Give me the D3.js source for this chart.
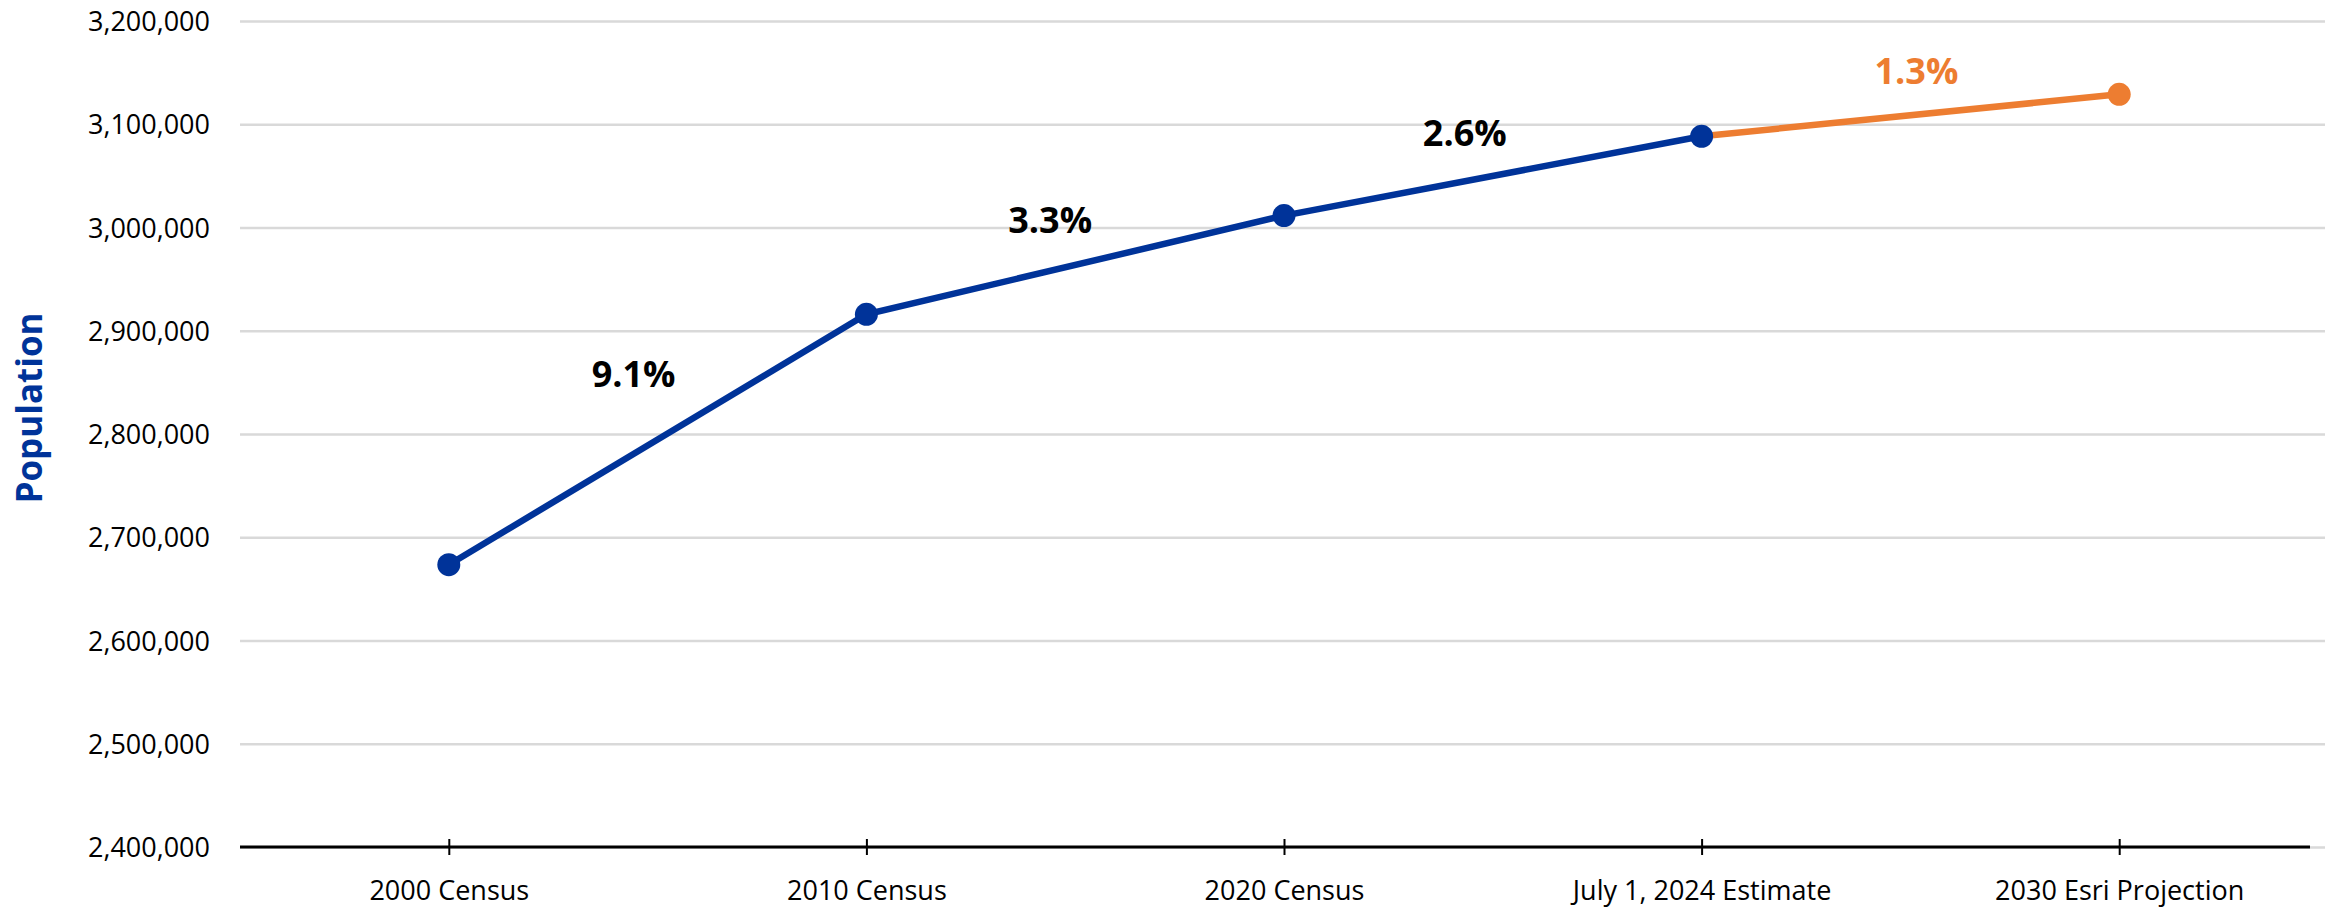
<!DOCTYPE html>
<html>
<head>
<meta charset="utf-8">
<script src="https://cdn.jsdelivr.net/npm/d3@7"></script>
<style>
  body { margin: 0; background: #fff; }
  svg { display: block; font-family: "Segoe UI", "Open Sans", sans-serif; }
</style>
</head>
<body>
<svg id="chart" width="2338" height="909"></svg>
<script>
// data
let categories = ["2000 Census", "2010 Census", "2020 Census", "July 1, 2024 Estimate", "2030 Esri Projection"];
let population = [2673400, 2915918, 3011524, 3088354, 3129000];
let isProjection = [false, false, false, false, true];
let growthLabels = ["9.1%", "3.3%", "2.6%", "1.3%"];
let yTicks = [2400000, 2500000, 2600000, 2700000, 2800000, 2900000, 3000000, 3100000, 3200000];

// label nudges off the segment midpoints (pixels)
let labelNudge = [[-24, -53], [-25, -32], [-28, -30], [6, -31]];

let blue = "#003399";
let orange = "#ED7D31";
let fontFamily = '"Segoe UI", "Open Sans", sans-serif';

let svg = d3.select("#chart");
let margin = {left: 240, right: 10, top: 21, bottom: 62};
let svgWidth = 2338, svgHeight = 909;

let x = d3.scalePoint()
    .domain(categories)
    .range([margin.left, svgWidth - margin.right])
    .padding(0.5);

let y = d3.scaleLinear()
    .domain([2400000, 3200000])
    .range([svgHeight - margin.bottom, margin.top]);

let gridRight = svgWidth - 13;

// y axis + gridlines
let yAxis = svg.append("g")
    .attr("transform", "translate(" + margin.left + ",0)")
    .call(d3.axisLeft(y)
        .tickValues(yTicks)
        .tickFormat(d3.format(","))
        .tickSize(-(gridRight - margin.left)))
    .attr("font-family", fontFamily);
yAxis.select(".domain").remove();
yAxis.selectAll(".tick line")
    .attr("stroke", "#D9D9D9")
    .attr("stroke-width", 2.5);
yAxis.selectAll(".tick text")
    .attr("x", -30)
    .attr("dy", "0.36em")
    .attr("fill", "#000")
    .style("font-size", "27px");

// x axis
let xAxis = svg.append("g")
    .attr("transform", "translate(0," + y(2400000) + ")")
    .call(d3.axisBottom(x).tickSize(8).tickSizeOuter(0))
    .attr("font-family", fontFamily);
xAxis.select(".domain").remove();
xAxis.append("line")
    .attr("x1", margin.left)
    .attr("x2", svgWidth - 28)
    .attr("stroke", "#000")
    .attr("stroke-width", 3);
xAxis.selectAll(".tick line")
    .attr("y1", -8)
    .attr("y2", 8)
    .attr("stroke", "#000")
    .attr("stroke-width", 2);
xAxis.selectAll(".tick text")
    .attr("y", 53)
    .attr("dy", 0)
    .attr("fill", "#000")
    .style("font-size", "27px");

// y axis title
svg.append("text")
    .attr("transform", "translate(42," + ((y(2400000) + y(3200000)) / 2 - 26) + ") rotate(-90)")
    .attr("text-anchor", "middle")
    .attr("fill", blue)
    .style("font-weight", "bold")
    .style("font-size", "35px")
    .text("Population");

// lines
let rows = categories.map((c, i) => ({cat: c, pop: population[i], proj: isProjection[i]}));
let line = d3.line().x(d => x(d.cat)).y(d => y(d.pop));

let projRows = rows.filter((d, i) => d.proj || (i + 1 < rows.length && rows[i + 1].proj));
let histRows = rows.filter(d => !d.proj);

svg.append("path")
    .datum(projRows)
    .attr("d", line)
    .attr("fill", "none")
    .attr("stroke", orange)
    .attr("stroke-width", 6.5);

svg.append("path")
    .datum(histRows)
    .attr("d", line)
    .attr("fill", "none")
    .attr("stroke", blue)
    .attr("stroke-width", 6.5);

svg.selectAll("circle.marker")
    .data(rows).enter()
    .append("circle")
    .classed("marker", true)
    .attr("cx", d => x(d.cat))
    .attr("cy", d => y(d.pop))
    .attr("r", 11.5)
    .attr("fill", d => d.proj ? orange : blue);

// growth labels
svg.selectAll("text.growth")
    .data(growthLabels).enter()
    .append("text")
    .classed("growth", true)
    .attr("x", (d, i) => (x(rows[i].cat) + x(rows[i + 1].cat)) / 2 + labelNudge[i][0])
    .attr("y", (d, i) => (y(rows[i].pop) + y(rows[i + 1].pop)) / 2 + labelNudge[i][1])
    .attr("text-anchor", "middle")
    .attr("fill", (d, i) => rows[i + 1].proj ? orange : "#000")
    .style("font-weight", "bold")
    .style("font-size", "36px")
    .text(d => d);
</script>
</body>
</html>
